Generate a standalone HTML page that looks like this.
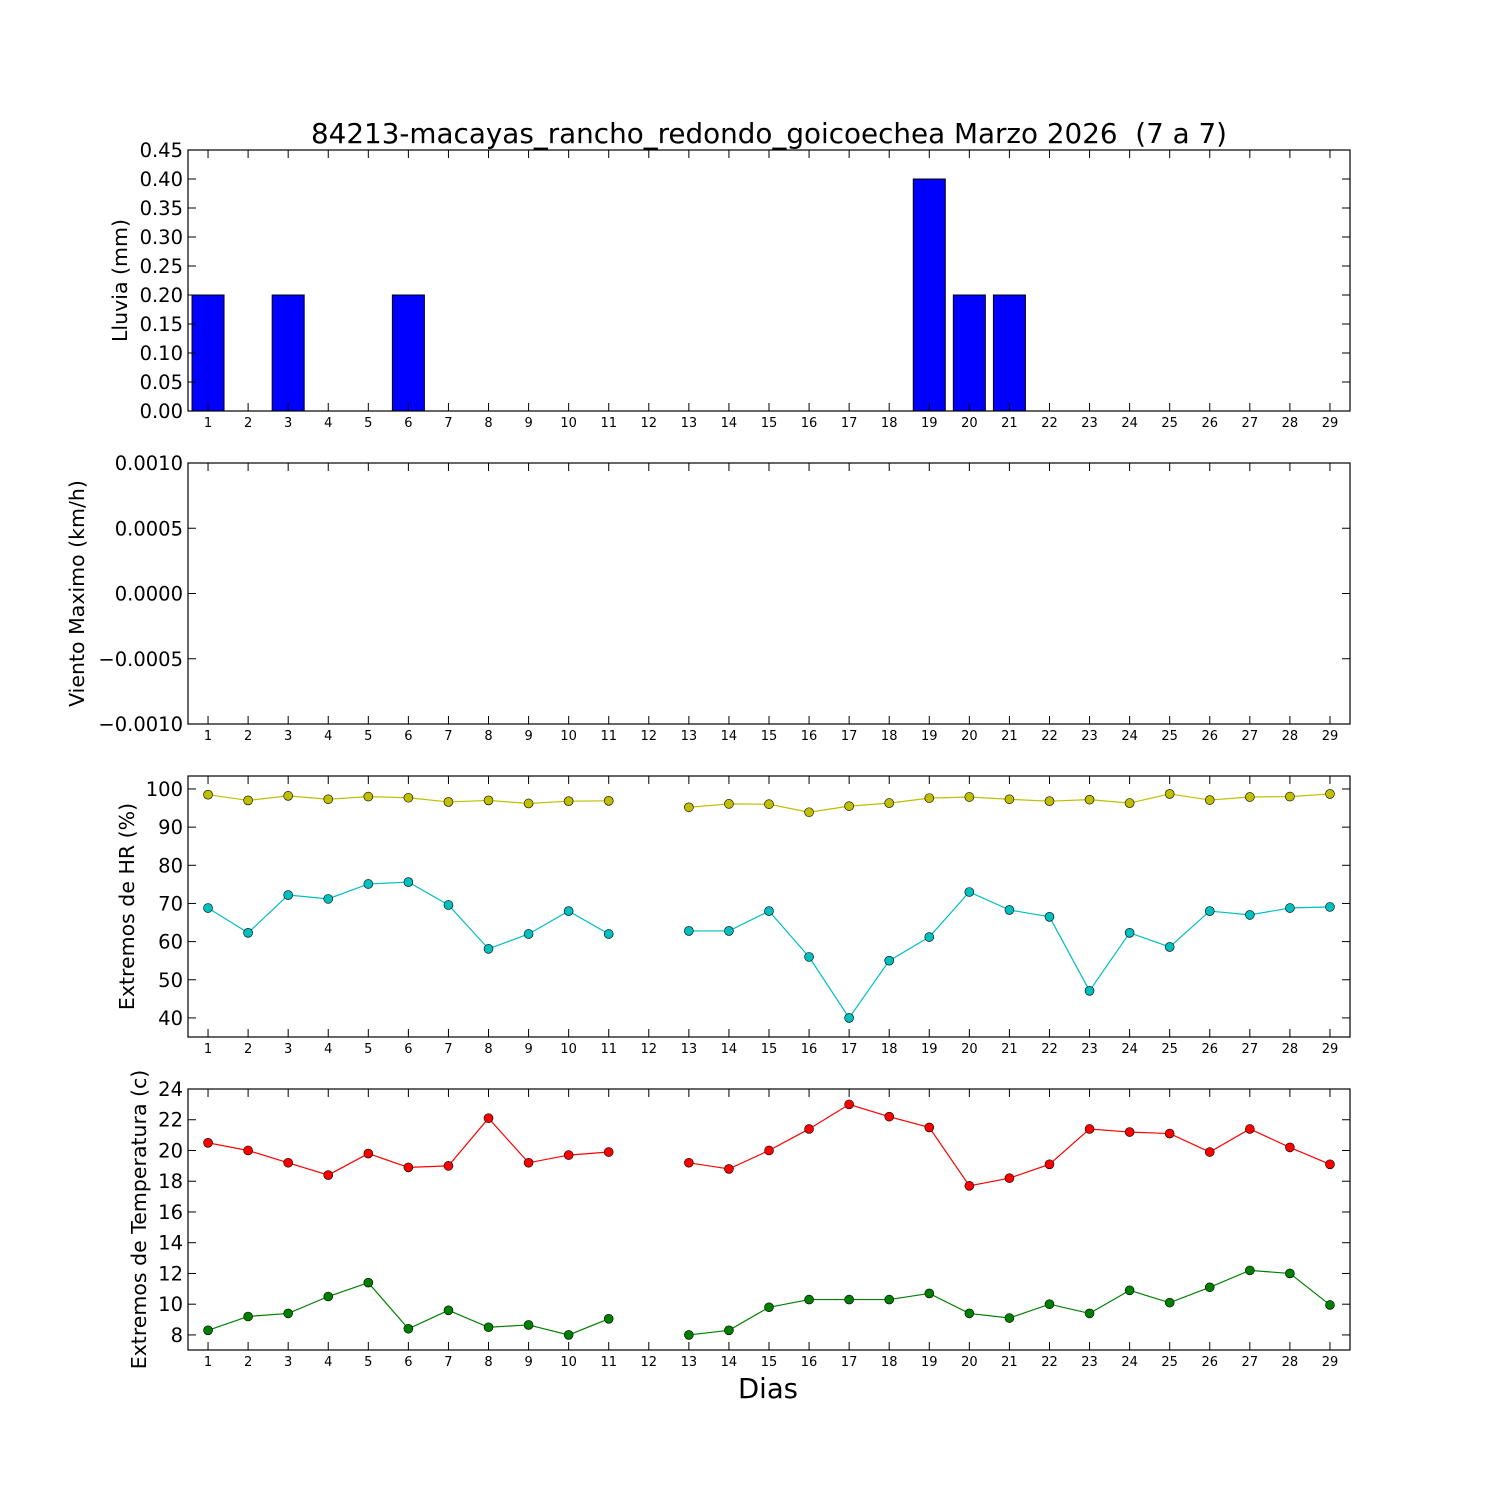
<!DOCTYPE html>
<html><head><meta charset="utf-8"><style>
html,body{margin:0;padding:0;background:#fff}
svg{display:block;font-family:"DejaVu Sans","Liberation Sans",sans-serif}
</style></head><body>
<svg id="chart" width="1500" height="1500" viewBox="0 0 1500 1500" xmlns="http://www.w3.org/2000/svg">
<rect width="1500" height="1500" fill="#fff"/>
<text x="769" y="143" font-size="27.8" text-anchor="middle">84213-macayas_rancho_redondo_goicoechea Marzo 2026&#160; (7 a 7)</text>
<text x="768" y="1398" font-size="27.5" text-anchor="middle">Dias</text>
</svg>
<script>
const days = [1,2,3,4,5,6,7,8,9,10,11,12,13,14,15,16,17,18,19,20,21,22,23,24,25,26,27,28,29];
const rain = [0.2,0,0.2,0,0,0.2,0,0,0,0,0,0,0,0,0,0,0,0,0.4,0.2,0.2,0,0,0,0,0,0,0,0];
const hrMax = [98.5,97,98.2,97.3,98,97.7,96.6,97,96.2,96.8,96.9,null,95.2,96.1,96,93.9,95.5,96.3,97.6,97.9,97.3,96.8,97.2,96.3,98.7,97.1,97.9,98,98.7];
const hrMin = [68.8,62.3,72.2,71.2,75.1,75.6,69.6,58.1,62,68,62,null,62.8,62.8,68,56,40,55,61.2,73,68.3,66.5,47.1,62.3,58.6,68,67,68.8,69.1];
const tMax = [20.5,20,19.2,18.4,19.8,18.9,19,22.1,19.2,19.7,19.9,null,19.2,18.8,20,21.4,23,22.2,21.5,17.7,18.2,19.1,21.4,21.2,21.1,19.9,21.4,20.2,19.1];
const tMin = [8.3,9.2,9.4,10.5,11.4,8.4,9.6,8.5,8.65,8,9.05,null,8,8.3,9.8,10.3,10.3,10.3,10.7,9.4,9.1,10,9.4,10.9,10.1,11.1,12.2,12,9.95];
const rainTicks = ["0.00","0.05","0.10","0.15","0.20","0.25","0.30","0.35","0.40","0.45"];
const windTicks = ["0.0010","0.0005","0.0000","\u22120.0005","\u22120.0010"];
const windTickVals = [0.001,0.0005,0,-0.0005,-0.001];
const hrTicks = [40,50,60,70,80,90,100];
const tTicks = [8,10,12,14,16,18,20,22,24];

const NS="http://www.w3.org/2000/svg";
const svg=document.getElementById('chart');
function mk(tag,attrs,parent){const e=document.createElementNS(NS,tag);for(const k in attrs)e.setAttribute(k,attrs[k]);(parent||svg).appendChild(e);return e;}
const L=188,R=1350;
const xs=d=>L+(d-0.5)*(R-L)/29;

function panel(name,top,bot,ymin,ymax,label,labelX){
  const g=mk('g',{});
  
  
  const ys=v=>bot-(v-ymin)/(ymax-ymin)*(bot-top);
  return {g,ys,top,bot,label,labelX};
}
function frame(p,tickVals,tickLabels){
  const g=p.g;
  tickVals.forEach((v,i)=>{
    const y=p.ys(v);
    mk('line',{x1:L,x2:L+8,y1:y,y2:y,stroke:'#000'},g);
    mk('line',{x1:R-8,x2:R,y1:y,y2:y,stroke:'#000'},g);
    const t=mk('text',{x:L-5,y:y+7,'font-size':19.5,'text-anchor':'end'},g);
    
    
    t.textContent=tickLabels[i];
  });
  days.forEach(d=>{
    const x=xs(d);
    mk('line',{x1:x,x2:x,y1:p.bot,y2:p.bot-8,stroke:'#000'},g);
    mk('line',{x1:x,x2:x,y1:p.top,y2:p.top+8,stroke:'#000'},g);
    const t=mk('text',{x:x,y:p.bot+16,'font-size':13,'text-anchor':'middle'},g);
    
    
    t.textContent=d;
  });
  mk('rect',{x:L,y:p.top,width:R-L,height:p.bot-p.top,fill:'none',stroke:'#000','stroke-width':1.2},g);
  const cy=(p.top+p.bot)/2;
  const t=mk('text',{x:p.labelX,y:cy,'font-size':20.5,'text-anchor':'middle',transform:`rotate(-90 ${p.labelX} ${cy})`},g);
  
  
  t.textContent=p.label;
}
function series(p,vals,color,name){
  let seg=[];const segs=[];
  vals.forEach((v,i)=>{if(v===null){if(seg.length)segs.push(seg);seg=[];}else seg.push([xs(days[i]),p.ys(v)]);});
  if(seg.length)segs.push(seg);
  segs.forEach(s=>{
    const pl=mk('polyline',{points:s.map(q=>q.join(',')).join(' '),fill:'none',stroke:color,'stroke-width':1.2},p.g);
    
    
  });
  vals.forEach((v,i)=>{if(v===null)return;
    const c=mk('circle',{cx:xs(days[i]),cy:p.ys(v),r:4.5,fill:color,stroke:'#000','stroke-width':0.6},p.g);
    
    
  });
}

const p1=panel('rain-panel',150,411,0,0.45,'Lluvia (mm)',127);
rain.forEach((v,i)=>{
  const x=xs(days[i]);const y=p1.ys(v);
  const b=mk('rect',{x:x-16,y:y,width:32,height:p1.bot-y,fill:'#0000ff',stroke:'#000','stroke-width':1},p1.g);
  
  
});
frame(p1,rainTicks.map(Number),rainTicks);

const p2=panel('wind-panel',463,724,-0.001,0.001,'Viento Maximo (km/h)',84);
frame(p2,windTickVals,windTicks);

const p3=panel('humidity-panel',776,1037,35.0,103.4,'Extremos de HR (%)',134);
series(p3,hrMax,'#bfbf00','hr-max');
series(p3,hrMin,'#00bfbf','hr-min');
frame(p3,hrTicks,hrTicks.map(String));

const p4=panel('temperature-panel',1089,1350,7.02,24,'Extremos de Temperatura (c)',146);
series(p4,tMax,'#ff0000','temp-max');
series(p4,tMin,'#008000','temp-min');
frame(p4,tTicks,tTicks.map(String));
</script>
</body></html>
